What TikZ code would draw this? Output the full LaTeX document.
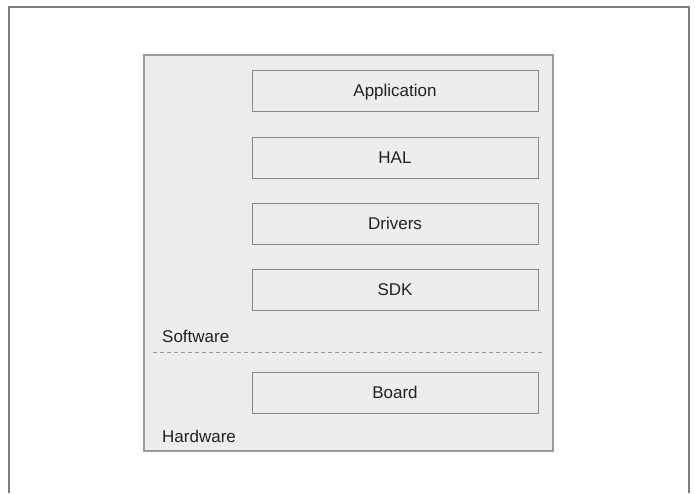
\documentclass[tikz,border=0pt]{standalone}
\usepackage{fontspec}
\setmainfont{Liberation Sans}
\usetikzlibrary{positioning}
\definecolor{Frame}{HTML}{7F7F7F}
\definecolor{Panel}{HTML}{EDEDED}
\definecolor{Edge}{HTML}{9A9A9A}
\definecolor{BoxEdge}{HTML}{8A8A8A}
\definecolor{Ink}{HTML}{222222}
\tikzset{
  panel/.style={draw=Edge,fill=Panel,line width=1.2pt,minimum width=409pt,minimum height=396pt,inner sep=0pt},
  layer/.style={draw=BoxEdge,fill=Panel,line width=0.9pt,minimum width=286pt,minimum height=41pt,inner sep=0pt,text depth=0pt,font=\fontsize{17}{19}\selectfont,text=Ink},
  tag/.style={anchor=base west,inner sep=0pt,font=\fontsize{17}{19}\selectfont,text=Ink},
  split/.style={dashed,draw=Edge,line width=1pt,dash pattern=on 4pt off 3pt}
}
\begin{document}
\begin{tikzpicture}[x=1pt,y=-1pt]
  \useasboundingbox (0,0) rectangle (695,493);
  \draw[Frame,line width=2pt] (9,493) -- (9,7) -- (689,7) -- (689,493);
  \node[panel] (sys) at (348.5,253) {};
  \node[layer] (app) at (395,90.5) {Application};
  \node[layer] (hal) at (395,157.5) {HAL};
  \node[layer] (drv) at (395,223.5) {Drivers};
  \node[layer] (sdk) at (395,289.5) {SDK};
  \node[layer] (board) at (395,392.5) {Board};
  \node[tag] (sw) at (162,342) {Software};
  \node[tag] (hw) at (162,442) {Hardware};
  \coordinate (cutL) at (153,352);
  \coordinate (cutR) at (543,352);
  \draw[split] (cutL) -- (cutR);
\end{tikzpicture}
\end{document}
